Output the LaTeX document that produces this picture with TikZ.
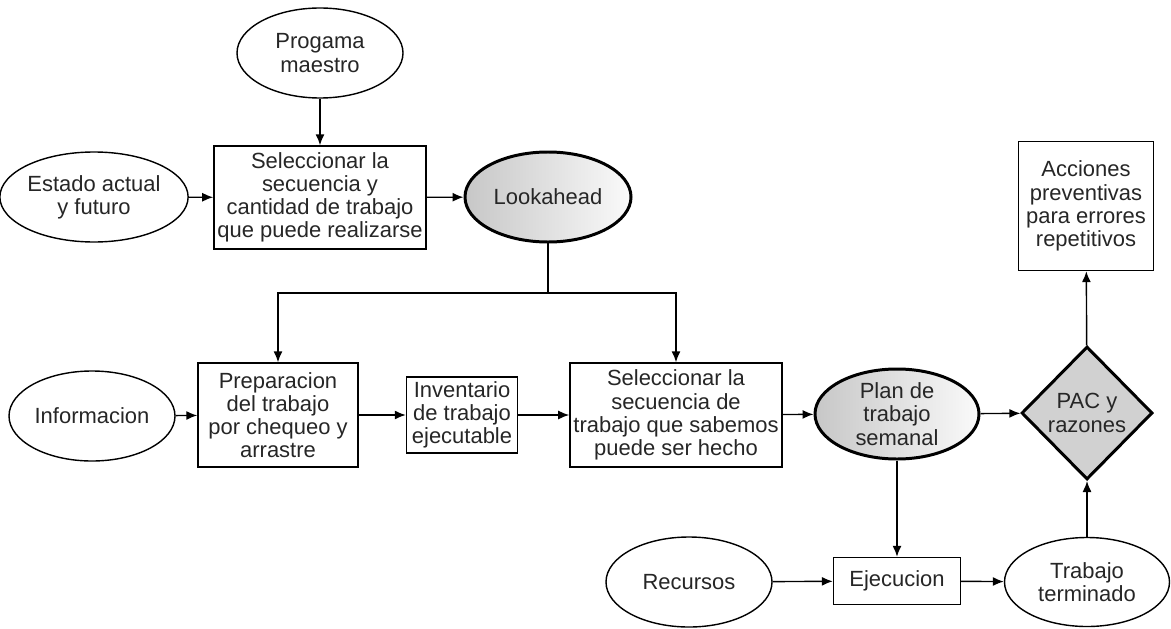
\documentclass[tikz,border=0pt]{standalone}
\usepackage{fontspec}
\setmainfont{Liberation Sans}
\usetikzlibrary{arrows.meta, shapes.geometric}

\begin{document}
\begin{tikzpicture}[>={Latex[length=2.2mm, width=1.8mm]}, line width=0.8pt,
    every node/.style={font=\fontsize{12.5}{13.2}\selectfont, text=black!85, align=center},
    oval/.style={draw, ellipse, inner sep=0pt, minimum width=3.32cm, minimum height=1.8cm},
    keyoval/.style={oval, line width=1.7pt, left color=black!22, right color=black!2},
    tarea/.style={draw, rectangle, inner sep=2pt}]
  \useasboundingbox (0,0) rectangle (23.42,-12.56);
  % upper part
  \node[oval] (prog) at (6.40,-1.06) {Progama\\maestro};
  \node[oval] (estado) at (1.88,-3.94) {Estado actual\\y futuro};
  \node[tarea, minimum width=4.24cm, minimum height=2.06cm] (sel1) at (6.40,-3.95) {Seleccionar la\\secuencia y\\cantidad de trabajo\\que puede realizarse};
  \node[keyoval] (look) at (10.96,-3.94) {Lookahead};
  \coordinate (split) at (10.96,-5.86);
  % middle row
  \node[oval] (info) at (1.84,-8.32) {Informacion};
  \node[tarea, minimum width=3.20cm, minimum height=2.08cm] (prep) at (5.56,-8.30) {Preparacion\\del trabajo\\por chequeo y\\arrastre};
  \node[tarea, minimum width=2.22cm, minimum height=1.52cm] (inv) at (9.24,-8.30) {Inventario\\de trabajo\\ejecutable};
  \node[tarea, minimum width=4.22cm, minimum height=2.08cm] (sel2) at (13.52,-8.30) {Seleccionar la\\secuencia de\\trabajo que sabemos\\puede ser hecho};
  \node[keyoval, minimum width=3.28cm] (plan) at (17.94,-8.28) {Plan de\\trabajo\\semanal};
  \node[draw, diamond, aspect=0.98, inner sep=0pt, minimum width=2.62cm, minimum height=2.66cm, line width=1.7pt, fill=black!18] (pac) at (21.74,-8.26) {PAC y\\razones};
  \node[tarea, minimum width=2.70cm, minimum height=2.58cm] (acc) at (21.72,-4.12) {Acciones\\preventivas\\para errores\\repetitivos};
  % bottom row
  \node[oval] (rec) at (13.78,-11.64) {Recursos};
  \node[tarea, minimum width=2.54cm, minimum height=0.94cm] (ejec) at (17.94,-11.62) {Ejecucion};
  \node[oval, minimum width=3.30cm, minimum height=1.78cm] (term) at (21.74,-11.64) {Trabajo\\terminado};

  \draw[->] (prog) -- (sel1);
  \draw[->] (estado) -- (sel1);
  \draw[->] (sel1) -- (look);
  \draw (look) -- (split);
  \draw[->] (split) -| (prep.north);
  \draw[->] (split) -| (sel2.north);
  \draw[->] (info) -- (prep);
  \draw[->] (prep) -- (inv);
  \draw[->] (inv) -- (sel2);
  \draw[->] (sel2) -- (plan);
  \draw[->] (plan) -- (pac);
  \draw[->] (pac) -- (acc);
  \draw[->] (plan) -- (ejec);
  \draw[->] (rec) -- (ejec);
  \draw[->] (ejec) -- (term);
  \draw[->] (term) -- (pac);
\end{tikzpicture}
\end{document}
